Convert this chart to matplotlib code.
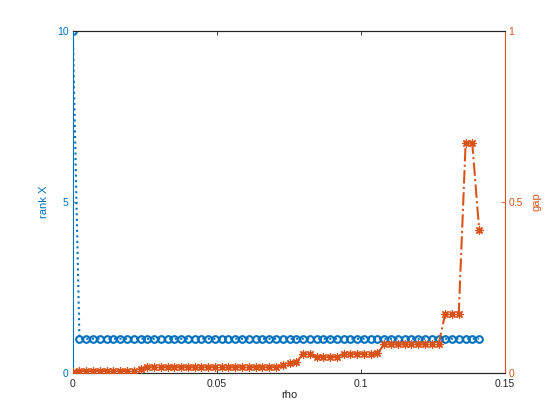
import matplotlib
matplotlib.use("Agg")
import matplotlib.pyplot as plt

rho = [0.0, 0.0023, 0.0047, 0.007, 0.0094, 0.0117, 0.0141, 0.0164, 0.0188, 0.0211,
       0.0235, 0.0258, 0.0282, 0.0305, 0.0329, 0.0352, 0.0376, 0.0399, 0.0423, 0.0446,
       0.047, 0.0493, 0.0517, 0.054, 0.0564, 0.0587, 0.0611, 0.0634, 0.0658, 0.0681,
       0.0705, 0.0728, 0.0752, 0.0775, 0.0799, 0.0822, 0.0846, 0.0869, 0.0893, 0.0916,
       0.094, 0.0963, 0.0987, 0.101, 0.1034, 0.1057, 0.1081, 0.1104, 0.1128, 0.1151,
       0.1175, 0.1198, 0.1222, 0.1245, 0.1269, 0.1292, 0.1316, 0.1339, 0.1363, 0.1386,
       0.141]

rank_x = [10, 1, 1, 1, 1, 1, 1, 1, 1, 1,
          1, 1, 1, 1, 1, 1, 1, 1, 1, 1,
          1, 1, 1, 1, 1, 1, 1, 1, 1, 1,
          1, 1, 1, 1, 1, 1, 1, 1, 1, 1,
          1, 1, 1, 1, 1, 1, 1, 1, 1, 1,
          1, 1, 1, 1, 1, 1, 1, 1, 1, 1,
          1]

gap = [0.002, 0.007, 0.007, 0.007, 0.007, 0.007, 0.007, 0.007, 0.007, 0.007,
       0.013, 0.017, 0.017, 0.017, 0.017, 0.017, 0.017, 0.017, 0.017, 0.017,
       0.017, 0.017, 0.017, 0.017, 0.017, 0.017, 0.017, 0.017, 0.017, 0.017,
       0.018, 0.023, 0.028, 0.031, 0.056, 0.056, 0.047, 0.047, 0.047, 0.047,
       0.056, 0.056, 0.056, 0.056, 0.056, 0.057, 0.084, 0.084, 0.084, 0.084,
       0.084, 0.084, 0.084, 0.084, 0.084, 0.172, 0.172, 0.172, 0.672, 0.672,
       0.418]

xticks = [0, 0.05, 0.1, 0.15]
xticklabels = ["0", "0.05", "0.1", "0.15"]
lticks = [0, 5, 10]
rticks = [0, 0.5, 1]
rticklabels = ["0", "0.5", "1"]

BLUE = "#0072BD"
ORANGE = "#D95319"
DARK = "#262626"

plt.rcParams["font.family"] = ["Liberation Sans", "DejaVu Sans"]

fig = plt.figure(figsize=(5.6, 4.2), dpi=100)
ax = fig.add_axes([0.13, 0.112, 0.772, 0.814])
ax2 = ax.twinx()

ax.plot(rho, rank_x, linestyle=":", color=BLUE, linewidth=1.5,
        marker="o", markersize=4.8, markerfacecolor="none",
        markeredgecolor=BLUE, markeredgewidth=1.5, zorder=3)
ax2.plot(rho, gap, linestyle="-.", color=ORANGE, linewidth=1.5,
         marker=(8, 2, 0), markersize=6, markeredgecolor=ORANGE,
         markeredgewidth=0.9, zorder=3)

ax.set_xlim(0, 0.15)
ax.set_ylim(0, 10)
ax2.set_ylim(0, 1)

ax.set_xticks(xticks)
ax.set_xticklabels(xticklabels)
ax.set_yticks(lticks)
ax2.set_yticks(rticks)
ax2.set_yticklabels(rticklabels)

fs = 7.5
ax.tick_params(axis="x", direction="in", length=3, width=0.6, colors=DARK,
               labelsize=fs, top=True, pad=4)
ax.tick_params(axis="y", direction="in", length=3, width=0.6, colors=BLUE,
               labelsize=fs, right=False, pad=3)
ax2.tick_params(axis="y", direction="in", length=3, width=0.6, colors=ORANGE,
                labelsize=fs, pad=2.5)

for a in (ax, ax2):
    for s in a.spines.values():
        s.set_linewidth(0.8)
    a.spines["top"].set_color(DARK)
    a.spines["bottom"].set_color(DARK)
ax2.spines["left"].set_visible(False)
ax.spines["right"].set_visible(False)
ax.spines["left"].set_color(BLUE)
ax2.spines["right"].set_color(ORANGE)

ax.set_xlabel("rho", fontsize=fs + 0.5, color=DARK, labelpad=1)
ax.set_ylabel("rank X", fontsize=fs + 0.5, color=BLUE, labelpad=6)
ax2.set_ylabel("gap", fontsize=fs + 0.5, color=ORANGE, labelpad=6, rotation=90)

fig.savefig("out.png", dpi=100)
